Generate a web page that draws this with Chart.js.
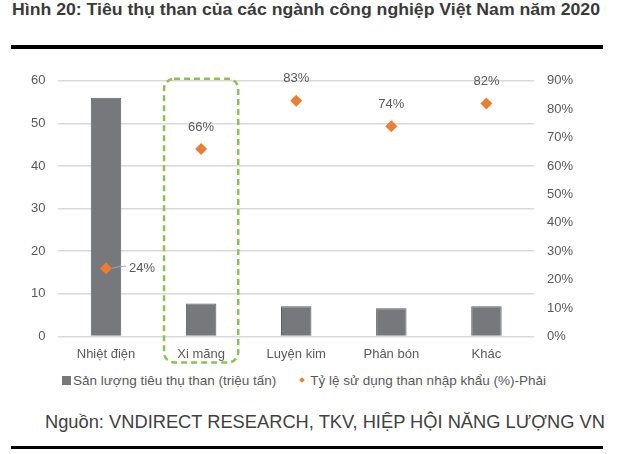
<!DOCTYPE html>
<html>
<head>
<meta charset="utf-8">
<script src="https://cdn.jsdelivr.net/npm/chart.js@4.4.0/dist/chart.umd.min.js"></script>
<style>
  body { margin: 0; background: #fff; font-family: "Liberation Sans", Arial, sans-serif; }
  #wrap { position: relative; width: 630px; height: 454px; overflow: hidden; }
  #title { position: absolute; left: 12px; top: 0px; font-size: 16.5px; font-weight: bold; color: #3a3a3a; white-space: nowrap; transform-origin: 0 0; }
  .rule { position: absolute; left: 11px; width: 592px; background: #000; }
  #box { position: absolute; left: 0; top: 60px; width: 630px; height: 305px; }
  #legend { position: absolute; left: 62px; top: 373px; font-size: 13.5px; color: #595959; white-space: nowrap; }
  #legend span.item { display: inline-block; }
  .sq { display: inline-block; width: 9px; height: 9px; background: #77787b; margin-right: 2px; }
  .dm { display: inline-block; width: 4px; height: 4px; background: #ed7d31; transform: rotate(45deg); margin: 0 6px 2px 24px; vertical-align: 1px; }
  #source { position: absolute; left: 45px; top: 411px; font-size: 18.3px; color: #404040; white-space: nowrap; }
</style>
</head>
<body>
<div id="wrap">
  <div id="title">Hình 20: Tiêu thụ than của các ngành công nghiệp Việt Nam năm 2020</div>
  <div class="rule" style="top:45px;height:4px;"></div>
  <div id="box"><canvas id="chart"></canvas></div>
  <div id="legend"></div>
  <div id="source">Nguồn: VNDIRECT RESEARCH, TKV, HIỆP HỘI NĂNG LƯỢNG VN</div>
  <div class="rule" style="top:446px;height:3px;"></div>
</div>
<script>
// dữ liệu
var categories = ['Nhiệt điện', 'Xi măng', 'Luyện kim', 'Phân bón', 'Khác'];
var consumption = [56.0, 7.7, 7.1, 6.6, 7.1];   // triệu tấn
var importShare = [24, 66, 83, 74, 82];         // %
var seriesNames = ['Sản lượng tiêu thụ than (triệu tấn)', 'Tỷ lệ sử dụng than nhập khẩu (%)-Phải'];
var leftTicks = [0, 10, 20, 30, 40, 50, 60];
var rightTicks = [0, 10, 20, 30, 40, 50, 60, 70, 80, 90];

var barColor = '#77787b';
var pointColor = '#ed7d31';
var textColor = '#595959';

// tiêu đề: kéo giãn cho vừa 588px
var t = document.getElementById('title');
t.style.transform = 'scaleX(' + (588 / t.getBoundingClientRect().width) + ')';

// legend html
var lg = document.getElementById('legend');
lg.innerHTML = '<span class="item"><span class="sq"></span>' + seriesNames[0] + '</span>' +
  '<span class="item"><span class="dm"></span>' + seriesNames[1] + '</span>';

// nhãn % và khung nét đứt quanh Xi măng
var extras = {
  id: 'extras',
  afterDatasetsDraw: function(chart) {
    var ctx = chart.ctx;
    var x = chart.scales.x, y = chart.scales.y;
    // khung xanh
    var cx = x.getPixelForValue(1);
    var half = (x.getPixelForValue(1) - x.getPixelForValue(0)) * 0.39;
    ctx.save();
    ctx.strokeStyle = '#8dc153';
    ctx.lineWidth = 2.5;
    ctx.setLineDash([6, 4]);
    ctx.beginPath();
    ctx.roundRect(cx - half, y.top - 2, half * 2, y.bottom - y.top + 28, 10);
    ctx.stroke();
    ctx.restore();

    var meta = chart.getDatasetMeta(1);
    ctx.save();
    ctx.font = '13px "Liberation Sans", Arial, sans-serif';
    ctx.fillStyle = textColor;
    ctx.textBaseline = 'middle';
    meta.data.forEach(function(pt, i) {
      var txt = importShare[i] + '%';
      if (i === 0) {
        ctx.strokeStyle = '#a6a6a6';
        ctx.lineWidth = 1;
        ctx.beginPath();
        ctx.moveTo(pt.x + 6, pt.y);
        ctx.quadraticCurveTo(pt.x + 12, pt.y - 2, pt.x + 20, pt.y - 2);
        ctx.stroke();
        ctx.textAlign = 'left';
        ctx.fillText(txt, pt.x + 23, pt.y);
      } else {
        ctx.textAlign = 'center';
        ctx.fillText(txt, pt.x, pt.y - 22);
      }
    });
    ctx.restore();
  }
};

var ctx = document.getElementById('chart').getContext('2d');
var chart = new Chart(ctx, {
  type: 'bar',
  data: {
    labels: categories,
    datasets: [{
      label: seriesNames[0],
      data: consumption,
      backgroundColor: barColor,
      borderColor: '#5f6063',
      borderWidth: 1,
      categoryPercentage: 1,
      barPercentage: 0.32,
      yAxisID: 'y',
      order: 1
    }, {
      type: 'line',
      label: seriesNames[1],
      data: importShare,
      showLine: false,
      pointStyle: 'rectRot',
      pointRadius: 6,
      pointBorderWidth: 0,
      pointBackgroundColor: pointColor,
      pointBorderColor: pointColor,
      yAxisID: 'y1',
      order: 0
    }]
  },
  options: {
    responsive: true,
    maintainAspectRatio: false,
    animation: false,
    layout: { padding: { left: 18, right: 44, top: 3, bottom: 1 } },
    plugins: {
      legend: { display: false },
      tooltip: { enabled: false }
    },
    scales: {
      x: {
        grid: { display: false },
        border: { display: false },
        ticks: { color: textColor, font: { size: 13, family: '"Liberation Sans", Arial' }, padding: 2 }
      },
      y: {
        position: 'left',
        min: 0, max: 60,
        afterBuildTicks: function(axis) { axis.ticks = leftTicks.map(function(v) { return { value: v }; }); },
        grid: { color: '#d9d9d9', lineWidth: 1.5, drawTicks: false },
        border: { display: false },
        ticks: { color: textColor, font: { size: 13, family: '"Liberation Sans", Arial' }, padding: 13 }
      },
      y1: {
        position: 'right',
        min: 0, max: 90,
        afterBuildTicks: function(axis) { axis.ticks = rightTicks.map(function(v) { return { value: v }; }); },
        grid: { display: false, drawTicks: false },
        border: { display: false },
        ticks: {
          color: textColor, font: { size: 13, family: '"Liberation Sans", Arial' }, padding: 13,
          callback: function(v) { return v + '%'; }
        }
      }
    }
  },
  plugins: [extras]
});
</script>
</body>
</html>
